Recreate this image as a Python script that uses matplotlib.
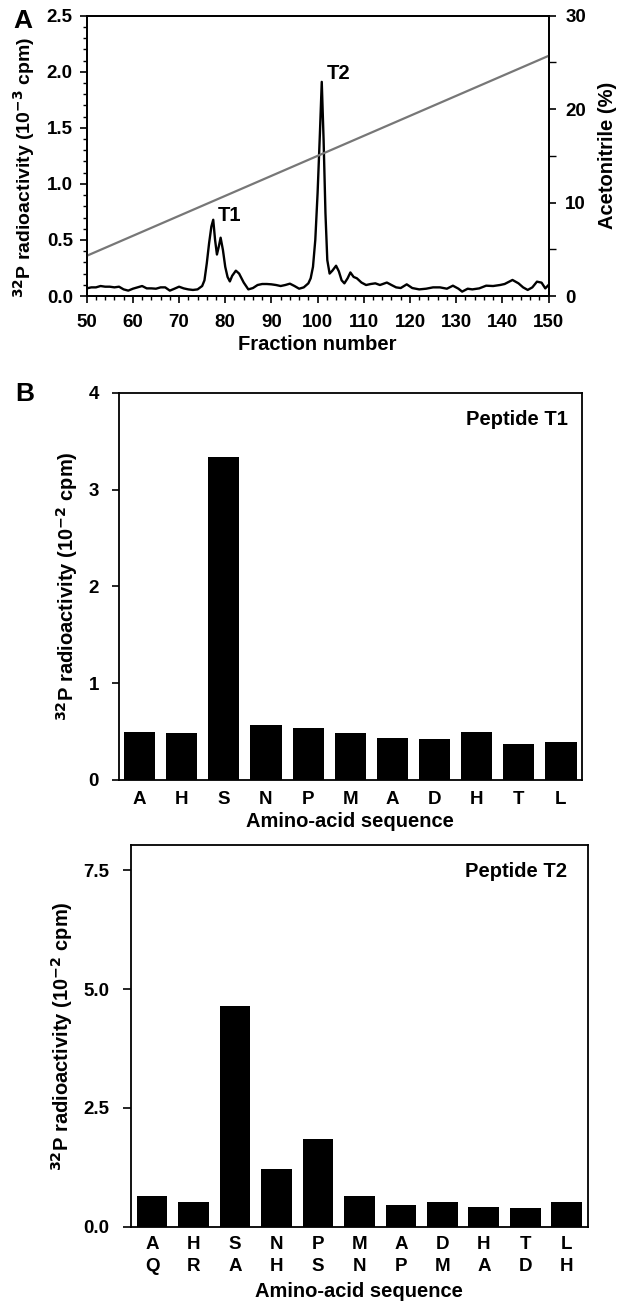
import matplotlib
matplotlib.use("Agg")
import matplotlib.pyplot as plt
from matplotlib import font_manager
from matplotlib.ticker import MultipleLocator, FormatStrFormatter

names = {f.name for f in font_manager.fontManager.ttflist}
fam = [n for n in ["Liberation Sans", "DejaVu Sans"] if n in names]
plt.rcParams['font.family'] = fam
plt.rcParams['font.weight'] = 'bold'
plt.rcParams['axes.labelweight'] = 'bold'

# ---------------- data ----------------
fraction = [50, 51, 52, 53, 54, 55, 56, 57, 58, 59, 60, 61, 62, 63, 64, 65, 66, 67, 68, 69,
            70, 71, 72, 73, 74, 75, 75.5, 76, 76.5, 77, 77.4, 77.8, 78.2, 78.6, 79.0, 79.5,
            80, 80.5, 81, 81.5, 82.3, 83, 83.5, 84, 85, 86, 87, 88, 89, 90, 91, 92, 93, 94,
            95, 96, 97, 98, 98.5, 99, 99.5, 100, 100.5, 100.9, 101.3, 101.7, 102.1, 102.6,
            103.2, 104, 104.6, 105.2, 105.8, 106.5, 107.1, 107.8, 108.5, 109.5, 110.5, 111.5,
            112.5, 113.5, 115, 116, 117, 118, 119.3, 120.5, 122, 123.5, 125, 126.5, 128,
            129.3, 130.5, 131.3, 132.5, 133.5, 135, 136.5, 138, 139.5, 140.5, 142.2, 143.5,
            144.5, 145.5, 146.5, 147.5, 148.5, 149.3, 150]
radioactivity = [0.068, 0.077, 0.077, 0.089, 0.083, 0.083, 0.077, 0.083, 0.059, 0.048, 0.065,
                 0.077, 0.089, 0.068, 0.068, 0.065, 0.077, 0.077, 0.048, 0.065, 0.083, 0.068,
                 0.059, 0.054, 0.059, 0.089, 0.14, 0.29, 0.47, 0.62, 0.68, 0.50, 0.37, 0.44,
                 0.52, 0.41, 0.26, 0.17, 0.13, 0.18, 0.226, 0.20, 0.16, 0.12, 0.059, 0.071,
                 0.098, 0.107, 0.107, 0.104, 0.098, 0.089, 0.098, 0.11, 0.089, 0.065, 0.077,
                 0.113, 0.158, 0.26, 0.50, 0.92, 1.45, 1.91, 1.39, 0.74, 0.32, 0.20, 0.226,
                 0.27, 0.22, 0.14, 0.113, 0.158, 0.21, 0.17, 0.158, 0.12, 0.098, 0.107, 0.113,
                 0.098, 0.12, 0.098, 0.077, 0.071, 0.104, 0.071, 0.059, 0.065, 0.077, 0.077,
                 0.065, 0.092, 0.065, 0.039, 0.065, 0.059, 0.068, 0.092, 0.089, 0.098, 0.107,
                 0.143, 0.113, 0.077, 0.054, 0.077, 0.128, 0.119, 0.068, 0.098]
gradient_fraction = [50, 150]
gradient_acetonitrile = [4.3, 25.7]

residues_t1 = ["A", "H", "S", "N", "P", "M", "A", "D", "H", "T", "L"]
values_t1 = [0.50, 0.49, 3.34, 0.57, 0.54, 0.49, 0.43, 0.42, 0.50, 0.375, 0.39]

residues_t2_top = ["A", "H", "S", "N", "P", "M", "A", "D", "H", "T", "L"]
residues_t2_bottom = ["Q", "R", "A", "H", "S", "N", "P", "M", "A", "D", "H"]
values_t2 = [0.65, 0.51, 4.64, 1.22, 1.84, 0.65, 0.45, 0.51, 0.42, 0.39, 0.51]

W, H = 626, 1302
fig = plt.figure(figsize=(W / 100, H / 100), dpi=100)

def box(l, t, r, b):
    return [l / W, 1 - b / H, (r - l) / W, (b - t) / H]

TS = 13.5
LS = 14.5
YL = r"$^{\mathbf{32}}$P radioactivity (10$^{\mathbf{-%d}}$ cpm)"

# ---------------- panel A ----------------
axA = fig.add_axes(box(86.7, 15.7, 548.5, 296))
axA.plot(fraction, radioactivity, color='black', lw=1.7)
axA.set_xlim(50, 150)
axA.set_ylim(0, 2.5)
axA.xaxis.set_major_locator(MultipleLocator(10))
axA.xaxis.set_minor_locator(MultipleLocator(2))
axA.yaxis.set_major_locator(MultipleLocator(0.5))
axA.yaxis.set_minor_locator(MultipleLocator(0.1))
axA.yaxis.set_major_formatter(FormatStrFormatter('%.1f'))
axA.tick_params(which='major', direction='out', length=5, width=1.2, labelsize=TS)
axA.tick_params(which='minor', direction='out', length=3, width=1.0)
axA.tick_params(axis='x', which='major', pad=8)
axA.tick_params(axis='y', which='major', pad=5)
axA.set_xlabel("Fraction number", fontsize=LS, labelpad=3)
axA.set_ylabel(YL % 3, fontsize=14)
axA.yaxis.set_label_coords(-0.108, 0.458)
for s in axA.spines.values():
    s.set_linewidth(1.3)
axA.text(78.3, 0.665, "T1", fontsize=LS, fontweight='bold', ha='left', va='baseline')
axA.text(102.0, 1.935, "T2", fontsize=LS, fontweight='bold', ha='left', va='baseline')

axA2 = axA.twinx()
axA2.plot(gradient_fraction, gradient_acetonitrile, color='#777777', lw=1.6)
axA2.set_ylim(0, 30)
axA2.yaxis.set_major_locator(MultipleLocator(10))
axA2.yaxis.set_minor_locator(MultipleLocator(5))
axA2.tick_params(which='major', direction='out', length=5, width=1.2, labelsize=TS, pad=7)
axA2.tick_params(which='minor', direction='out', length=5, width=1.0)
axA2.set_ylabel("Acetonitrile (%)", fontsize=LS, labelpad=9)
for s in axA2.spines.values():
    s.set_linewidth(1.3)

fig.text(13 / W, 1 - 28 / H, "A", fontsize=19, fontweight='bold', ha='left', va='baseline')

# ---------------- panel B1 ----------------
axB1 = fig.add_axes(box(118.5, 392.7, 582, 780))
x1 = list(range(len(values_t1)))
axB1.bar(x1, values_t1, width=0.74, color='black')
axB1.set_xlim(-0.5, 10.5)
axB1.set_ylim(0, 4)
axB1.set_yticks([0, 1, 2, 3, 4])
axB1.set_xticks(x1)
axB1.set_xticklabels(residues_t1)
axB1.tick_params(axis='x', length=0, labelsize=TS, pad=8)
axB1.tick_params(axis='y', direction='out', length=5, width=1.2, labelsize=TS, pad=9)
axB1.set_xlabel("Amino-acid sequence", fontsize=LS, labelpad=3)
axB1.set_ylabel(YL % 2, fontsize=LS, labelpad=6)
for s in axB1.spines.values():
    s.set_linewidth(1.3)
axB1.text(0.97, 0.955, "Peptide T1", transform=axB1.transAxes, fontsize=LS,
          fontweight='bold', ha='right', va='top')
fig.text(15 / W, 1 - 401 / H, "B", fontsize=19, fontweight='bold', ha='left', va='baseline')

# ---------------- panel B2 ----------------
axB2 = fig.add_axes(box(131.3, 845.3, 587.5, 1226.7))
x2 = list(range(len(values_t2)))
axB2.bar(x2, values_t2, width=0.74, color='black')
axB2.set_xlim(-0.5, 10.5)
axB2.set_ylim(0, 8.03)
axB2.set_yticks([0, 2.5, 5.0, 7.5])
axB2.yaxis.set_major_formatter(FormatStrFormatter('%.1f'))
axB2.set_xticks(x2)
axB2.set_xticklabels([f"{a}\n{b}" for a, b in zip(residues_t2_top, residues_t2_bottom)],
                     linespacing=1.35)
axB2.tick_params(axis='x', length=0, labelsize=TS, pad=7)
axB2.tick_params(axis='y', direction='out', length=6, width=1.2, labelsize=TS, pad=10)
axB2.set_xlabel("Amino-acid sequence", fontsize=LS, labelpad=5)
axB2.set_ylabel(YL % 2, fontsize=LS, labelpad=6)
for s in axB2.spines.values():
    s.set_linewidth(1.3)
axB2.text(0.955, 0.955, "Peptide T2", transform=axB2.transAxes, fontsize=LS,
          fontweight='bold', ha='right', va='top')

fig.savefig("out.png", dpi=100)
